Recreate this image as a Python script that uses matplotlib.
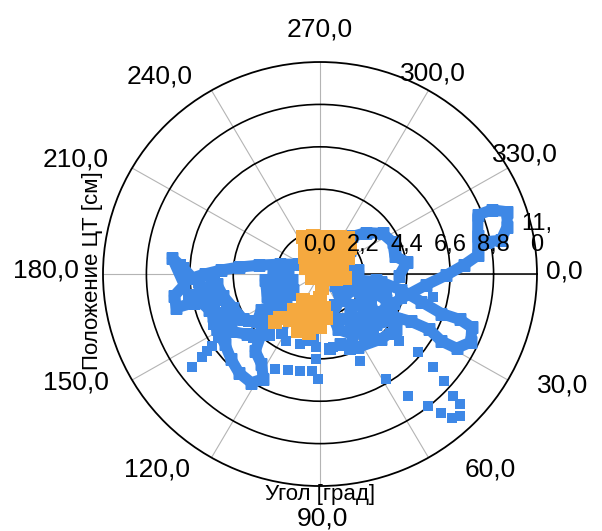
import numpy as np
import matplotlib.pyplot as plt

plt.rcParams['font.family'] = ['Liberation Sans', 'DejaVu Sans']

BLUE = '#3e88e6'
ORANGE = '#f5a93f'

# angle axis (degrees, clockwise from east)
angle_ticks = [0, 30, 60, 90, 120, 150, 180, 210, 240, 270, 300, 330]
angle_labels = ['0,0', '30,0', '60,0', '90,0', '120,0', '150,0', '180,0',
                '210,0', '240,0', '270,0', '300,0', '330,0']
# radial axis (cm)
radius_ticks = [0.0, 2.2, 4.4, 6.6, 8.8, 11.0]
radius_labels = ['0,0', '2,2', '4,4', '6,6', '8,8', '11,\n0']

# orange series: angle [deg], radius [cm]
orange_deg = [246, 260, 279, 298, 308, 242, 266, 288, 311, 319, 229, 257, 294, 318, 330,
              203, 254, 325, 345, 153, 45, 17, 9, 82, 90, 123, 104, 83, 126, 111, 96, 82,
              132, 123, 113, 101, 90, 111, 100, 133]
orange_r = [2.13, 1.98, 1.97, 2.20, 2.34, 1.63, 1.54, 1.62, 1.89, 2.04, 1.16, 0.95, 1.01,
            1.38, 1.65, 0.78, 0.37, 0.63, 1.17, 0.46, 0.29, 0.86, 1.30, 0.73, 1.23, 1.59,
            1.48, 1.76, 2.28, 2.03, 2.06, 2.28, 3.05, 2.82, 2.67, 2.62, 2.77, 3.18, 3.12, 3.37]

# blue series, dense stretches of the trajectory
loop_deg = [54, 37, 22, 13, 6, 0.5, -3.6, -6.9, -13.7, -21.0, -20.9, -18.8, -14.5, -10.8, -11.2]
loop_r = [2.79, 3.52, 4.03, 4.63, 5.41, 6.41, 7.30, 8.06, 8.23, 8.57, 9.33, 10.02, 9.80, 9.34, 8.68]

lower_loop_deg = [9.7, 7.6, 11.3, 15.6, 18.4, 18.4, 19.8, 24.8, 29.1, 29.5, 27.4, 28.1, 31.0, 35.8]
lower_loop_r = [1.82, 3.10, 4.18, 5.32, 6.49, 7.46, 8.18, 8.42, 7.92, 7.07, 6.24, 5.23, 4.19, 3.16]

box_deg = [-12.1, -38.7, -49.9, -42.4, -33.5, -24.0, -13.7, -7.9, 1.5]
box_r = [1.47, 1.97, 2.55, 3.19, 3.81, 4.04, 3.91, 4.45, 4.00]

arc_deg = [204.4, 194, 188.5, 185, 182.3, 180, 178.2, 182.5, 186.3, 175.3, 171.3, 166.5, 166.9, 168.5]
arc_r = [1.24, 2.11, 3.11, 4.12, 5.03, 5.85, 6.47, 6.93, 7.53, 6.90, 7.47, 7.49, 6.58, 5.65]

cloud_deg = [173.2, 174.4, 167.1, 158.4, 148.8, 152.4, 158.4, 151.2, 146.6, 139.7, 133.6, 137.4,
             142.3, 148.2, 143.6, 157.1, 173.7, 174.3, 152.8, 167.9, 149.4]
cloud_r = [6.04, 5.26, 5.05, 4.74, 4.55, 5.32, 5.85, 5.97, 5.40, 4.84, 4.32, 3.48,
           4.02, 3.50, 2.68, 2.90, 2.79, 2.06, 2.02, 1.47, 1.61]

cloud_link_deg = [183.6, 182.5, 163.7, 142.6, 139.2, 137.7, 161.9, 167.8, 172.4]
cloud_link_r = [1.64, 2.36, 2.56, 2.19, 2.98, 3.88, 5.93, 6.30, 6.21]

hook_deg = [151.2, 142.9, 135.7, 128.7, 121.7, 117.8, 122.5, 129.4, 133.6]
hook_r = [5.97, 6.04, 6.31, 6.57, 6.63, 6.15, 5.53, 5.17, 4.32]

center_deg = [-6.0, 36.3, 52.4, 73.7, 72.2, 62.3, 49.6, 33.0, 19.1, 21.8, 36.7, 47.7, 62.8, 74.3]
center_r = [1.96, 0.95, 1.68, 2.19, 3.02, 3.53, 3.64, 2.45, 2.82, 3.59, 4.80, 4.57, 4.27, 3.78]

center_link_deg = [40.0, 6.2, 31.5, 42.8, 59.5, 50.2, 56.5]
center_link_r = [1.67, 2.84, 4.51, 3.85, 3.03, 2.40, 4.18]

# blue series, samples crowded in the two clouds
crowd_deg = [176.2, 175.1, 170.3, 170.8, 169.2, 165.4, 152.3, 143.1, 163.6, 157.6, 144.7, 135.8,
             154.1, 150.4, 145.6, 147.4, 135.4, 128.9, 122.3, 183.7,
             32.6, 24.2, 13.8, 16.7, 64.2, 44.1, 31.8, 66.5, 48.8, 50.0, 41.1, 82.5, 68.5]
crowd_r = [6.17, 5.40, 1.82, 6.75, 6.00, 5.30, 2.32, 1.79, 5.61, 5.10, 3.02, 2.50,
           5.99, 5.19, 4.35, 6.09, 4.68, 4.08, 3.64, 7.09,
           1.52, 2.25, 3.43, 4.28, 1.77, 2.28, 3.02, 2.57, 3.27, 4.15, 4.76, 3.93, 4.19]

# blue series, single scattered samples
single_deg = [11.6, 41.1, 39.2, 65.6, 58.5, 40.0, 41.3, 43.0, 54.7, 51.4, 49.6, 48.3, 46.2, 43.5,
              80.0, 145.7, 145.1, 144.3, 143.5, 114.6, 108.3, 101.5, 94.7, 92.7, 93.1, 95.2,
              91.1, 116.6, 105.7, 98.4]
single_r = [5.86, 5.31, 6.42, 4.96, 6.38, 7.50, 8.39, 9.25, 7.73, 8.79, 9.50, 10.03, 10.23, 9.76,
            3.85, 6.64, 7.00, 7.39, 8.10, 5.42, 5.24, 5.13, 5.04, 4.41, 3.80, 3.40,
            5.44, 3.90, 3.78, 3.52]

# label placement (axes fraction), layout only
angle_label_pos = [(1.064, 0.505), (1.058, 0.238), (0.892, 0.038), (0.505, -0.076),
                   (0.124, 0.038), (-0.062, 0.243), (-0.131, 0.509), (-0.062, 0.769),
                   (0.131, 0.967), (0.500, 1.076), (0.760, 0.972), (0.972, 0.781)]

fig = plt.figure(figsize=(6.02, 5.31), dpi=100)
ax = fig.add_axes([0.1711, 0.0847, 0.7209, 0.7985], projection='polar')
ax.set_aspect('auto')
ax.set_theta_zero_location('E')
ax.set_theta_direction(-1)
ax.set_rlim(0, 11)

ax.set_xticks(np.radians(angle_ticks))
ax.set_xticklabels([])
ax.set_yticks(radius_ticks[1:-1])
ax.set_yticklabels([])
ax.tick_params(length=0)
ax.xaxis.grid(True, color='#b4b4b4', lw=0.8)
ax.yaxis.grid(True, color='black', lw=1.2)
ax.spines['polar'].set_color('black')
ax.spines['polar'].set_linewidth(1.3)
ax.plot([0, 0], [0, 11], color='black', lw=1.1, zorder=2.5)

tracks = [(loop_deg, loop_r), (lower_loop_deg, lower_loop_r), (box_deg, box_r),
          (arc_deg, arc_r), (cloud_deg, cloud_r), (cloud_link_deg, cloud_link_r),
          (hook_deg, hook_r), (center_deg, center_r), (center_link_deg, center_link_r)]
for deg, r in tracks:
    ax.plot(np.radians(deg), r, color=BLUE, lw=8, marker='s', ms=8,
            mec='none', solid_joinstyle='round', solid_capstyle='butt', zorder=3)
ax.scatter(np.radians(crowd_deg), crowd_r, marker='s', s=85, color=BLUE,
           linewidths=0, zorder=3)
ax.scatter(np.radians(single_deg), single_r, marker='s', s=50, color=BLUE,
           linewidths=0, zorder=3)
ax.scatter(np.radians(orange_deg), orange_r, marker='s', s=92, color=ORANGE,
           linewidths=0, zorder=4)

for r, lab in zip(radius_ticks, radius_labels):
    ax.annotate(lab, xy=(0, r), xytext=(0, 13), textcoords='offset points',
                ha='center', va='bottom', fontsize=17, linespacing=0.95, zorder=6)

for (x, y), lab in zip(angle_label_pos, angle_labels):
    ax.text(x, y, lab, transform=ax.transAxes, ha='center', va='center', fontsize=19)

fig.text(0.153, 0.49, 'Положение ЦТ [см]', rotation=90, ha='center', va='center', fontsize=16)
fig.text(0.532, 0.068, 'Угол [град]', ha='center', va='center', fontsize=16)

fig.savefig('out.png', dpi=100)
